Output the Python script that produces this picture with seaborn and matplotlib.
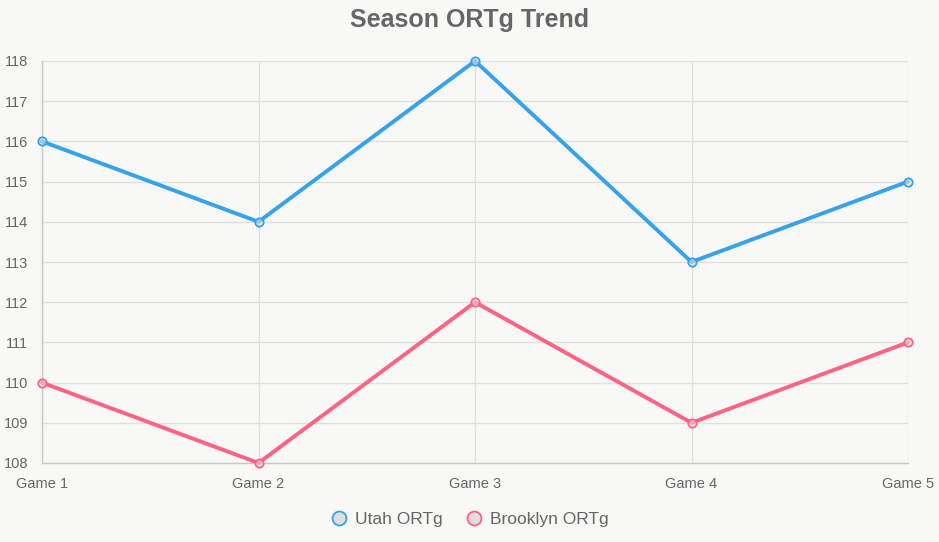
import matplotlib
matplotlib.use("Agg")
import matplotlib.pyplot as plt
import seaborn as sns
import pandas as pd
from matplotlib.lines import Line2D

games = ["Game 1", "Game 2", "Game 3", "Game 4", "Game 5"]
utah = [116, 114, 118, 113, 115]
brooklyn = [110, 108, 112, 109, 111]
series_names = ["Utah ORTg", "Brooklyn ORTg"]
colors = ["#36a2eb", "#ff6384"]

df = pd.DataFrame({
    "game": games * 2,
    "idx": list(range(len(games))) * 2,
    "value": utah + brooklyn,
    "series": [series_names[0]] * len(games) + [series_names[1]] * len(games),
})

sns.set_theme(style="white")
plt.rcParams['font.family'] = ['Liberation Sans', 'DejaVu Sans']
bg = "#f8f8f6"
fig = plt.figure(figsize=(9.39, 5.42), dpi=100, facecolor=bg)
ax = fig.add_axes([42/939, (542-463)/542, (908-42)/939, (463-61)/542])
ax.set_facecolor(bg)

sns.lineplot(data=df, x="idx", y="value", hue="series", palette=colors,
             linewidth=2.8, ax=ax, legend=False, zorder=3)
for line in ax.lines:
    line.set_clip_on(False)
for name, vals, c in zip(series_names, [utah, brooklyn], colors):
    ax.scatter(range(len(games)), vals, s=36, facecolor=(0.86, 0.86, 0.86, 0.6),
               edgecolor=c, linewidth=1.3, zorder=4, clip_on=False)

ax.set_xlim(0, len(games) - 1)
ax.set_ylim(108, 118)
ax.set_yticks(range(108, 119))
ax.set_xticks(range(len(games)))
ax.set_xticklabels(games)
ax.grid(True, color="#e0e0e0", linewidth=1)
for s in ["top", "right"]:
    ax.spines[s].set_visible(False)
for s in ["left", "bottom"]:
    ax.spines[s].set_color("#c8c8c8")
    ax.spines[s].set_linewidth(1)
ax.tick_params(axis="both", colors="#e0e0e0", length=8, width=1,
               labelcolor="#666666", labelsize=10.5)
ax.tick_params(axis="y", pad=2)
ax.tick_params(axis="x", pad=2)
ax.set_xlabel("")
ax.set_ylabel("")

fig.text(0.5, 1 - 20/542, "Season ORTg Trend", ha="center", va="center",
         fontsize=18, fontweight="bold", color="#666666")

handles = [Line2D([], [], marker="o", linestyle="none", markersize=10,
                  markerfacecolor=(0.87, 0.87, 0.87), markeredgecolor=c,
                  markeredgewidth=1.3) for c in colors]
fig.legend(handles, series_names, loc="center", bbox_to_anchor=(0.5, 1 - 519/542),
           ncol=2, frameon=False, fontsize=12.5, labelcolor="#666666",
           handletextpad=0.4, columnspacing=1.3, handlelength=1.0)

fig.savefig("out.png", dpi=100, facecolor=bg)
